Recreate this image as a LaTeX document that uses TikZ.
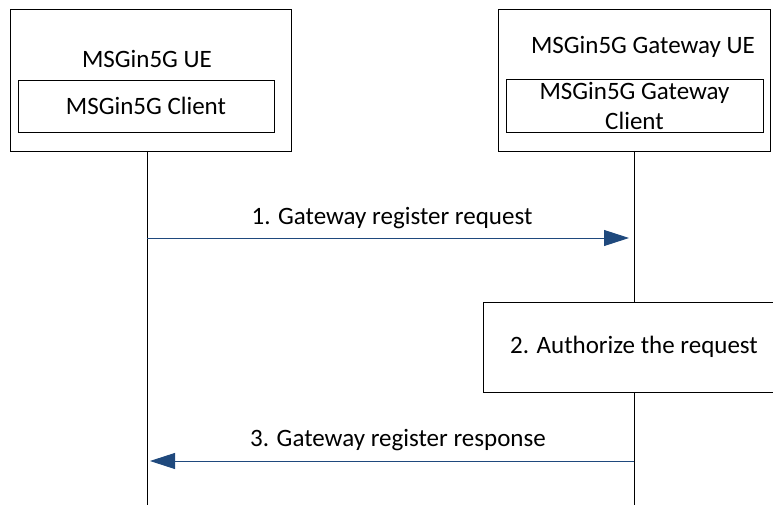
\documentclass[tikz,border=0pt]{standalone}
\usepackage{fontspec}
\setmainfont{Carlito}
\usetikzlibrary{arrows.meta}
\definecolor{msgblue}{RGB}{31,73,125}
\begin{document}
\begin{tikzpicture}[x=1pt, y=-1pt, line width=0.9pt, font=\fontsize{25}{30}\selectfont,
    box/.style = {draw, inner sep=0pt},
    msg/.style = {msgblue, -{Triangle[length=25pt, width=16pt]}}]
    \useasboundingbox (0,0) rectangle (773,505);
    \clip (0,0) rectangle (773,505);
    % Disegna i nodi

    \node[box, minimum width=281pt, minimum height=142pt] (ue) at (150.5,80) {};
    \node (uename) at (147,59) {MSGin5G UE};
    \node[box, minimum width=256pt, minimum height=52pt] (client) at (146,106) {MSGin5G Client};

    \node[box, minimum width=272pt, minimum height=142pt] (gw) at (634,80) {};
    \node (gwname) at (643,47) {MSGin5G Gateway UE};
    \node[box, minimum width=257pt, minimum height=53pt, align=center] (gwclient) at (634.5,105.5) {MSGin5G Gateway\\Client};

    \node[box, minimum width=302pt, minimum height=90pt] (auth) at (634,347) {2. Authorize the request};

    \coordinate (ue top) at (147,151);
    \coordinate (ue bot) at (147,505);
    \coordinate (gw top) at (634,151);
    \coordinate (gw bot) at (634,505);
    \coordinate (req a) at (147,238);
    \coordinate (req b) at (629,238);
    \coordinate (res a) at (634,461);
    \coordinate (res b) at (150,461);

    % Disegna le linee di vita
    \draw (ue top) to (ue bot);
    \draw (gw top) to (auth.north -| gw top);
    \draw (auth.south -| gw top) to (gw bot);

    % Disegna i messaggi
    \draw[msg] (req a) to (req b);
    \node (reqlabel) at (392,218) {1. Gateway register request};
    \draw[msg] (res a) to (res b);
    \node (reslabel) at (398,440) {3. Gateway register response};

\end{tikzpicture}
\end{document}
